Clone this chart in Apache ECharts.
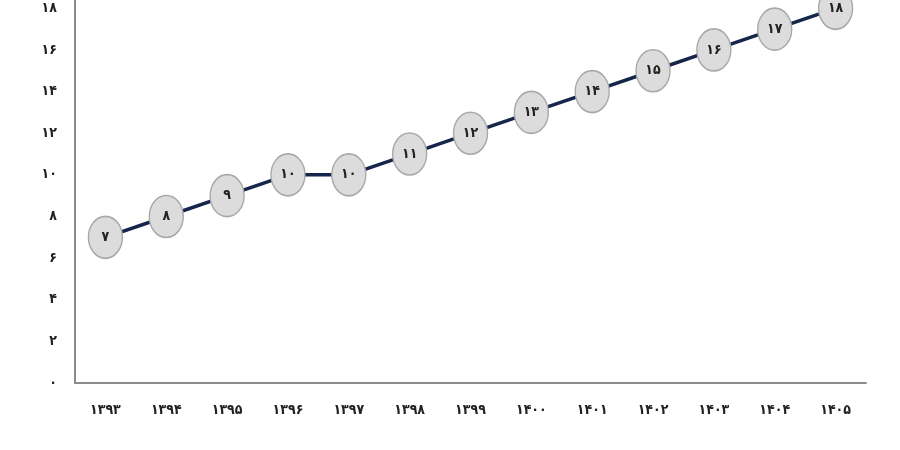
<!DOCTYPE html>
<html>
<head>
<meta charset="utf-8">
<script src="https://cdn.jsdelivr.net/npm/echarts@6/dist/echarts.min.js"></script>
<style>
  html, body { margin: 0; padding: 0; background: #fff; }
  #chart { width: 900px; height: 450px; }
</style>
</head>
<body>
<div id="chart"></div>
<script>
// years (solar hijri) and values
const years = [1393, 1394, 1395, 1396, 1397, 1398, 1399, 1400, 1401, 1402, 1403, 1404, 1405];
const values = [7, 8, 9, 10, 10, 11, 12, 13, 14, 15, 16, 17, 18];

// latin -> persian digits
const fa = (v) => String(v).replace(/\d/g, (d) => "۰۱۲۳۴۵۶۷۸۹"[d]);

const myChart = echarts.init(document.getElementById("chart"));
const option = {
  animation: false,
  textStyle: { fontFamily: "DejaVu Sans Condensed, DejaVu Sans" },
  grid: { left: 75, right: 34, top: 0, bottom: 67 },
  xAxis: {
    type: "category",
    data: years,
    boundaryGap: true,
    axisLine: { lineStyle: { color: "#8c8c8c", width: 2 } },
    axisTick: { show: false },
    axisLabel: {
      margin: 20,
      color: "#222",
      fontSize: 14,
      fontWeight: "bold",
      formatter: (v) => fa(v),
    },
  },
  yAxis: {
    type: "value",
    min: 0,
    max: 18.4,
    interval: 2,
    splitLine: { show: false },
    axisLine: { show: true, lineStyle: { color: "#8c8c8c", width: 2 } },
    axisTick: { show: false },
    axisLabel: {
      margin: 18,
      color: "#222",
      fontSize: 14,
      fontWeight: "bold",
      formatter: (v) => (v % 2 === 0 ? fa(v) : ""),
    },
  },
  series: [
    {
      type: "line",
      data: values,
      symbol: "circle",
      symbolSize: [34, 42],
      lineStyle: { color: "#15264a", width: 3.5 },
      itemStyle: { color: "#dcdcdc", borderColor: "#a8a8a8", borderWidth: 1.5 },
      label: {
        show: true,
        position: "inside",
        color: "#222",
        fontSize: 14,
        fontWeight: "bold",
        formatter: (p) => fa(p.value),
      },
    },
  ],
};
option && myChart.setOption(option);
</script>
</body>
</html>
